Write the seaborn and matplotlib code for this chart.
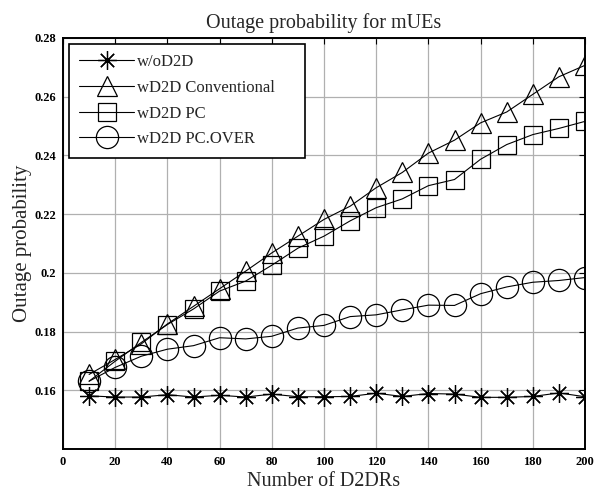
import numpy as np
import pandas as pd
import matplotlib
matplotlib.use("Agg")
import matplotlib.pyplot as plt
import seaborn as sns
from matplotlib.ticker import FuncFormatter

# ---- data ----
n_d2drs = [10, 20, 30, 40, 50, 60, 70, 80, 90, 100,
           110, 120, 130, 140, 150, 160, 170, 180, 190, 200]
wo_d2d = [0.1581, 0.1577, 0.1577, 0.1585, 0.1577, 0.1583, 0.1577, 0.1587, 0.1578, 0.1578,
          0.1579, 0.1590, 0.1579, 0.1589, 0.1587, 0.1576, 0.1576, 0.1579, 0.1591, 0.1578]
wd2d_conv = [0.1654, 0.1705, 0.1758, 0.1826, 0.1886, 0.1946, 0.2006, 0.2068, 0.2125, 0.2182,
             0.2227, 0.2290, 0.2342, 0.2408, 0.2452, 0.2511, 0.2548, 0.2608, 0.2668, 0.2707]
wd2d_pc = [0.1631, 0.1699, 0.1763, 0.1824, 0.1877, 0.1938, 0.1972, 0.2026, 0.2084, 0.2125,
           0.2177, 0.2222, 0.2252, 0.2297, 0.2318, 0.2387, 0.2437, 0.2471, 0.2492, 0.2516]
wd2d_pc_over = [0.1631, 0.1678, 0.1716, 0.1740, 0.1752, 0.1779, 0.1775, 0.1784, 0.1812, 0.1821,
                0.1851, 0.1857, 0.1874, 0.1890, 0.1889, 0.1929, 0.1952, 0.1968, 0.1974, 0.1984]
series_names = ["w/oD2D", "wD2D Conventional", "wD2D PC", "wD2D PC.OVER"]
x_ticks = [0, 20, 40, 60, 80, 100, 120, 140, 160, 180, 200]
y_ticks = [0.16, 0.18, 0.20, 0.22, 0.24, 0.26, 0.28]

# ---- style ----
sns.set_theme(style="white")
plt.rcParams["font.family"] = ["Liberation Serif", "DejaVu Serif"]

fig = plt.figure(figsize=(5.95, 4.91), dpi=100)
ax = fig.add_axes([63 / 595, 1 - 449 / 491, (585 - 63) / 595, (449 - 38) / 491])

series = [wo_d2d, wd2d_conv, wd2d_pc, wd2d_pc_over]
markers = [(8, 2, 0), "^", "s", "o"]
msizes = [13.5, 15, 13.5, 16]

for name, vals, mk, ms in zip(series_names, series, markers, msizes):
    sns.lineplot(x=n_d2drs, y=vals, ax=ax, color="black", linewidth=0.8,
                 marker=mk, markersize=ms, markerfacecolor="none",
                 markeredgecolor="black", markeredgewidth=0.9,
                 label=name, zorder=3)

ax.set_xlim(0, 200)
ax.set_ylim(0.14, 0.28)
ax.set_xticks(x_ticks)
ax.set_yticks(y_ticks)
ax.yaxis.set_major_formatter(FuncFormatter(lambda v, p: f"{v:g}"))
ax.grid(True, color="#b0b0b0", linewidth=0.9, linestyle="-")
ax.set_axisbelow(True)
ax.tick_params(axis="both", which="both", direction="in", length=4, width=0.8,
               top=True, right=True, labelsize=9, pad=5, colors="black")
for lab in ax.get_xticklabels() + ax.get_yticklabels():
    lab.set_fontweight("bold")
for sp in ax.spines.values():
    sp.set_color("black")
    sp.set_linewidth(1.4)
    sp.set_visible(True)

ax.set_title("Outage probability for mUEs", fontsize=14.5, pad=7)
ax.set_xlabel("Number of D2DRs", fontsize=14.5, labelpad=3)
ax.set_ylabel("Outage probability", fontsize=15, labelpad=2)

leg = ax.legend(loc="upper left", bbox_to_anchor=(6 / 522, 0.0, 236 / 522, 405 / 411),
                mode="expand", borderaxespad=0.0,
                fontsize=12, frameon=True, fancybox=False,
                edgecolor="black", framealpha=1, handlelength=3.3,
                labelspacing=0.58, borderpad=0.62, handletextpad=0.15)
leg.get_frame().set_linewidth(1.2)

fig.savefig("out.png", dpi=100)
